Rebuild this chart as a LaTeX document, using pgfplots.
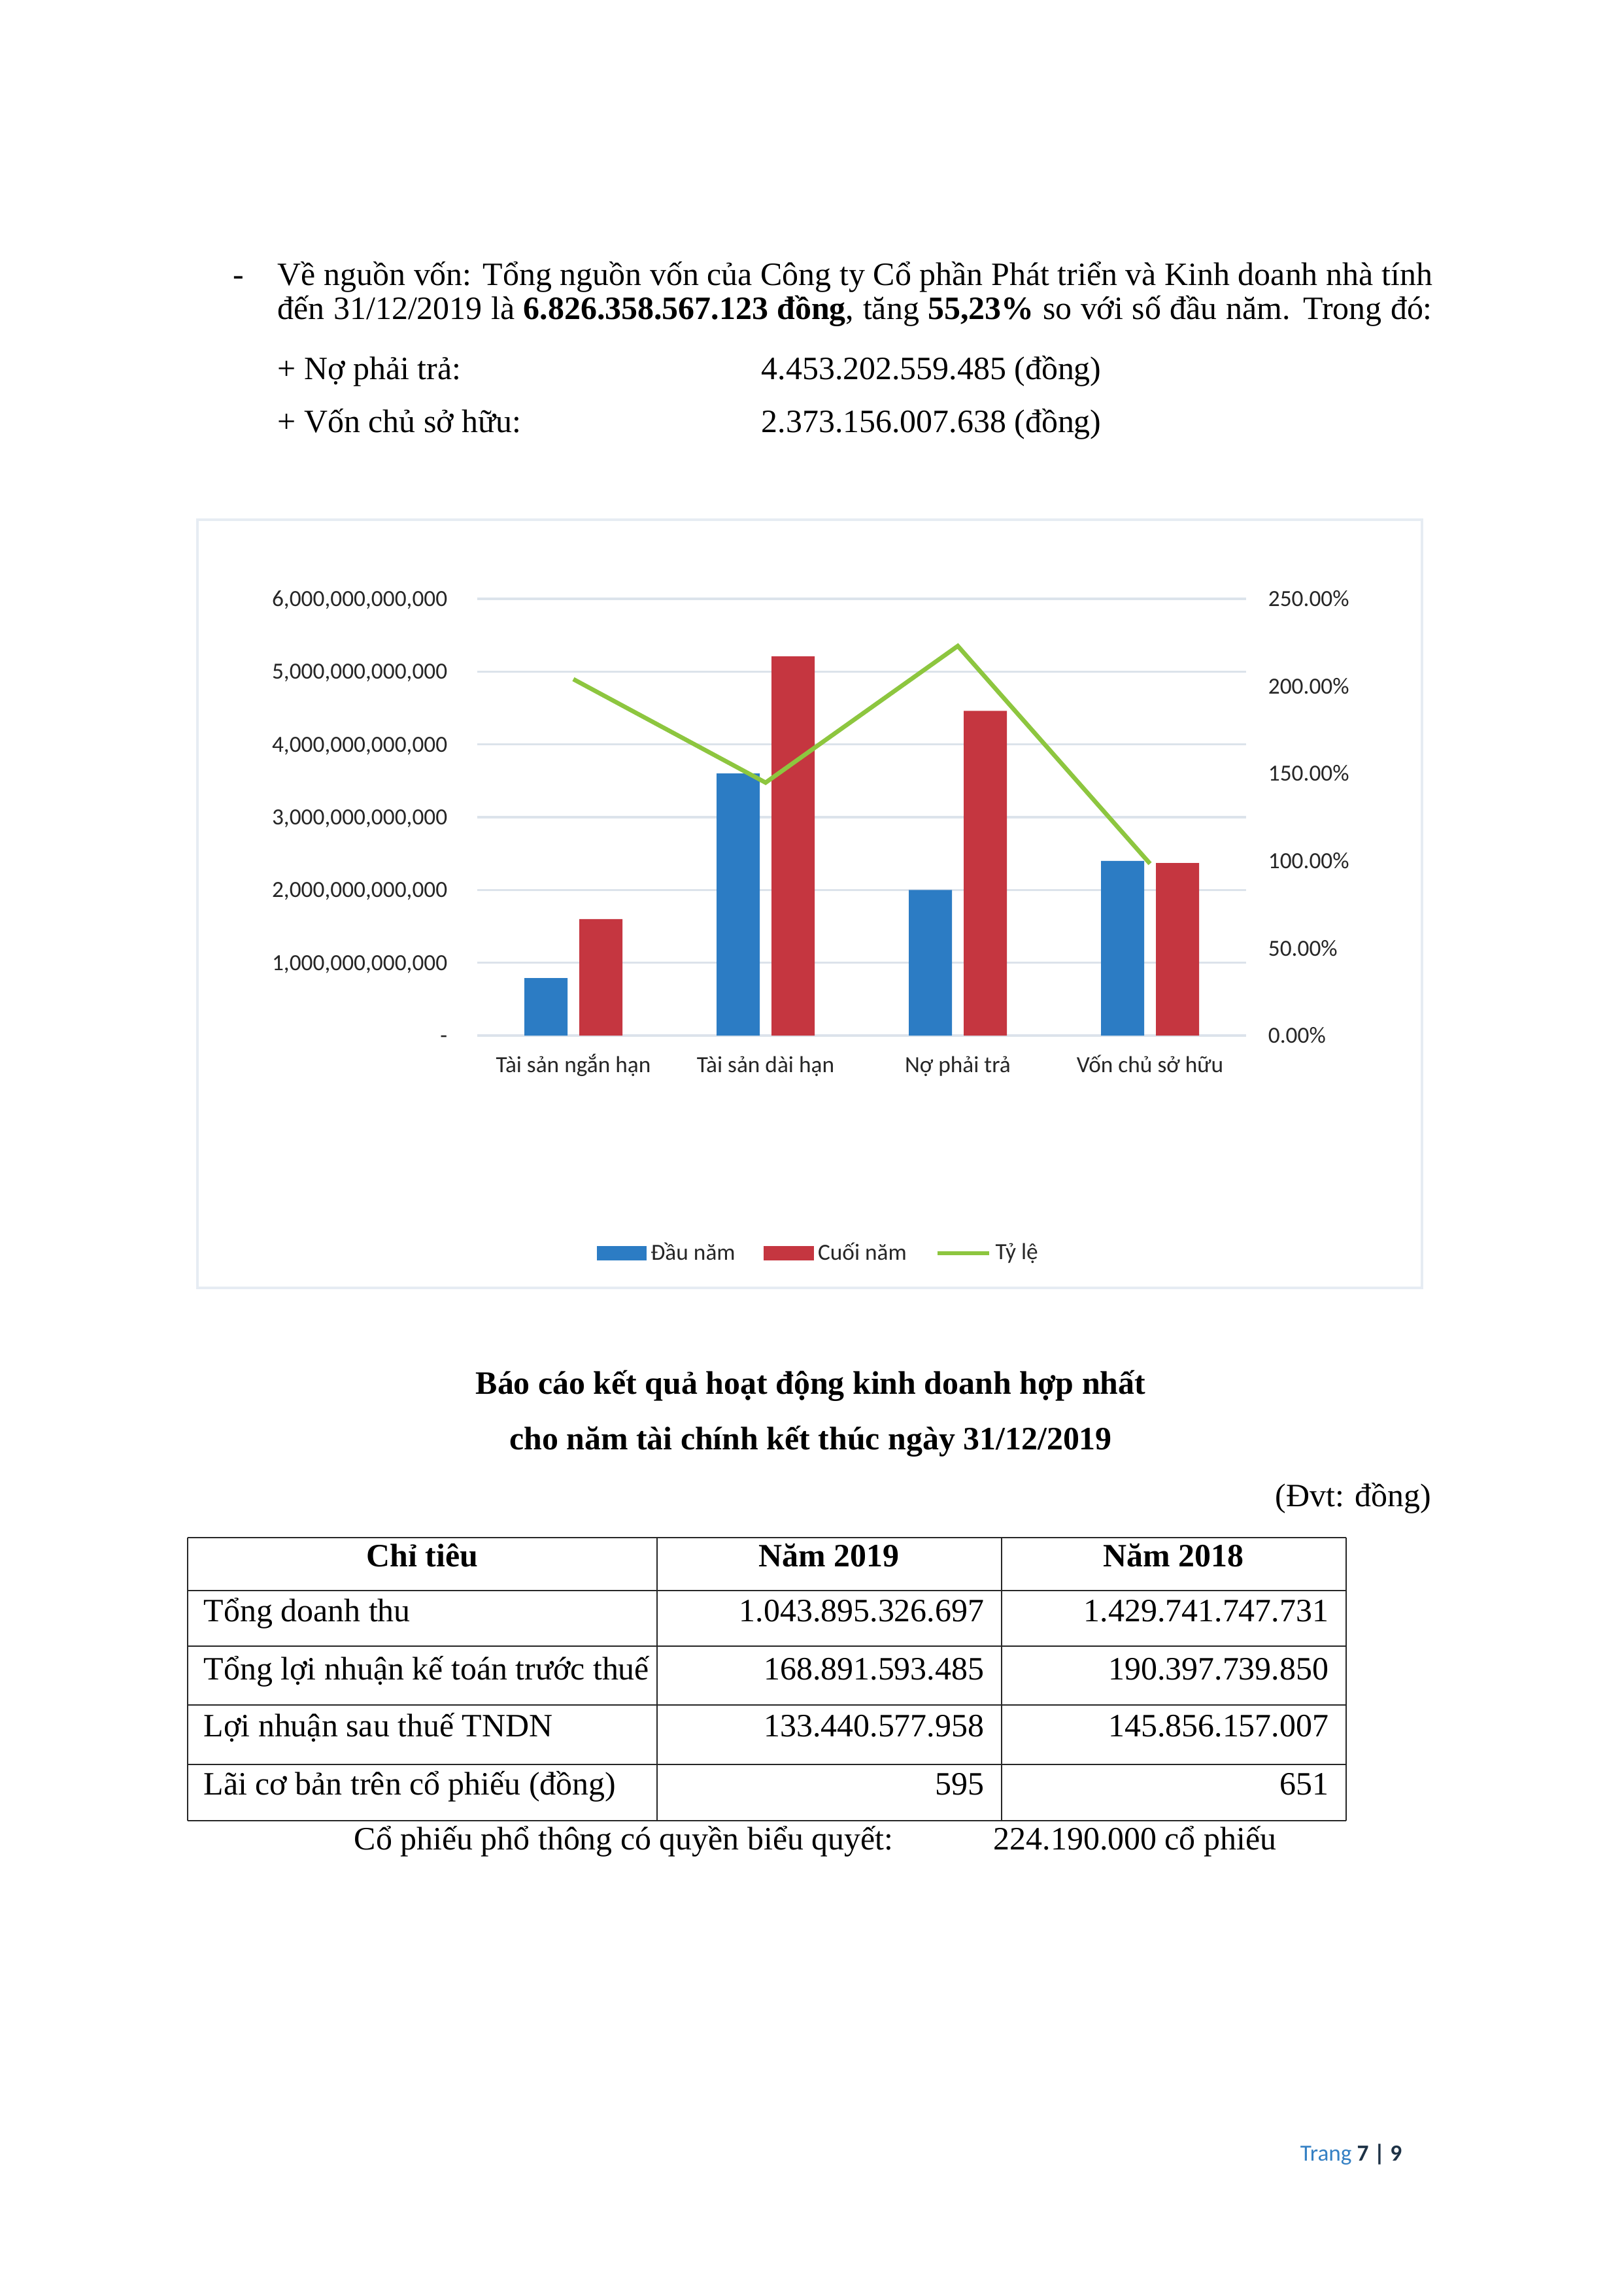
\documentclass[border=0pt]{standalone}
\usepackage{fontspec}
\setmainfont{Liberation Serif}
\newfontfamily\chartfont{Carlito}
\usepackage{pgfplots}
\pgfplotsset{compat=1.18}
\definecolor{barblue}{RGB}{44,124,196}
\definecolor{barred}{RGB}{197,54,64}
\definecolor{linegreen}{RGB}{141,198,63}
\definecolor{gridc}{RGB}{220,227,235}
\definecolor{boxc}{RGB}{230,236,243}
\definecolor{pageblue}{RGB}{52,128,196}
\definecolor{pagedark}{RGB}{30,50,70}
\newlength\px \setlength\px{0.0845411mm}
\newcommand\body{\fontsize{12pt}{14pt}\selectfont}
\newcommand\cf{\chartfont\fontsize{8.5pt}{10pt}\selectfont}
\begin{document}
\begin{tikzpicture}
\fill[white] (0,0) rectangle (2484\px,-3509\px);
\path[use as bounding box] (0,0) rectangle (2484\px,-3509\px);
\begin{scope}[x=0.0845411mm,y=-0.0845411mm]
\node[anchor=base west,inner sep=0pt] at (356,437) {\body -};
\node[anchor=base west,inner sep=0pt] at (424,437) {\body\makebox[1766\px][s]{Về nguồn vốn: Tổng nguồn vốn của Công ty Cổ phần Phát triển và Kinh doanh nhà tính}};
\node[anchor=base west,inner sep=0pt] at (424,489) {\body\makebox[1766\px][s]{đến 31/12/2019 là \textbf{6.826.358.567.123 đồng}, tăng \textbf{55,23\%} so với số đầu năm. Trong đó:}};
\node[anchor=base west,inner sep=0pt] at (424,581) {\body + Nợ phải trả:};
\node[anchor=base west,inner sep=0pt] at (1164,581) {\body 4.453.202.559.485 (đồng)};
\node[anchor=base west,inner sep=0pt] at (424,661) {\body + Vốn chủ sở hữu:};
\node[anchor=base west,inner sep=0pt] at (1164,661) {\body 2.373.156.007.638 (đồng)};
\draw[boxc,line width=1pt] (302,795) rectangle (2175,1970);
\node[anchor=base,inner sep=0pt] at (1240,2132) {\body\bfseries Báo cáo kết quả hoạt động kinh doanh hợp nhất};
\node[anchor=base,inner sep=0pt] at (1240,2217) {\body\bfseries cho năm tài chính kết thúc ngày 31/12/2019};
\node[anchor=base east,inner sep=0pt] at (2190,2304) {\body (Đvt: đồng)};
\foreach \yy in {2352,2433,2518,2608,2699,2785} {\draw[black!85,line width=0.6pt] (287,\yy) -- (2059,\yy);}
\foreach \xx in {287,1005,1532,2059} {\draw[black!85,line width=0.6pt] (\xx,2352) -- (\xx,2785);}
\node[anchor=base,inner sep=0pt] at (646,2396) {\body\bfseries Chỉ tiêu};
\node[anchor=base,inner sep=0pt] at (1268,2396) {\body\bfseries Năm 2019};
\node[anchor=base,inner sep=0pt] at (1795,2396) {\body\bfseries Năm 2018};
\node[anchor=base west,inner sep=0pt] at (311,2480) {\body Tổng doanh thu};
\node[anchor=base east,inner sep=0pt] at (1506,2480) {\body 1.043.895.326.697};
\node[anchor=base east,inner sep=0pt] at (2033,2480) {\body 1.429.741.747.731};
\node[anchor=base west,inner sep=0pt] at (311,2569) {\body Tổng lợi nhuận kế toán trước thuế};
\node[anchor=base east,inner sep=0pt] at (1506,2569) {\body 168.891.593.485};
\node[anchor=base east,inner sep=0pt] at (2033,2569) {\body 190.397.739.850};
\node[anchor=base west,inner sep=0pt] at (311,2656) {\body Lợi nhuận sau thuế TNDN};
\node[anchor=base east,inner sep=0pt] at (1506,2656) {\body 133.440.577.958};
\node[anchor=base east,inner sep=0pt] at (2033,2656) {\body 145.856.157.007};
\node[anchor=base west,inner sep=0pt] at (311,2745) {\body Lãi cơ bản trên cổ phiếu (đồng)};
\node[anchor=base east,inner sep=0pt] at (1506,2745) {\body 595};
\node[anchor=base east,inner sep=0pt] at (2033,2745) {\body 651};
\node[anchor=base west,inner sep=0pt] at (541,2829) {\body Cổ phiếu phổ thông có quyền biểu quyết:};
\node[anchor=base west,inner sep=0pt] at (1519,2829) {\body 224.190.000 cổ phiếu};
\node[anchor=base west,inner sep=0pt] at (1988,3305) {\chartfont\fontsize{8.5pt}{10pt}\selectfont\textcolor{pageblue}{Trang} \textcolor{pagedark}{\textbf{7 | 9}}};
\end{scope}
\begin{axis}[
 at={(730\px,-1584\px)}, anchor=south west,
 scale only axis, width=1176\px, height=668\px,
 xmin=-0.5, xmax=3.5, ymin=0, ymax=6e12,
 scaled y ticks=false,
 axis line style={draw=none}, major tick length=0pt,
 ymajorgrids, grid style={gridc, line width=0.8pt},
 xtick={0,1,2,3},
 xticklabels={Tài sản ngắn hạn, Tài sản dài hạn, Nợ phải trả, Vốn chủ sở hữu},
 ytick={0,1e12,2e12,3e12,4e12,5e12,6e12},
 yticklabels={{-\hspace{27\px}},{1,000,000,000,000},{2,000,000,000,000},{3,000,000,000,000},{4,000,000,000,000},{5,000,000,000,000},{6,000,000,000,000}},
 xticklabel style={font=\cf, text=black!85, anchor=base, inner sep=0pt, yshift=-56\px},
 yticklabel style={font=\cf, text=black!85, anchor=base east, inner sep=0pt, xshift=-45\px, yshift=-2.8pt},
 ybar, bar width=66\px,
]
\addplot[fill=barblue, draw=none, bar shift=-42\px] coordinates {(0,7.9e11) (1,3.60e12) (2,2.00e12) (3,2.40e12)};
\addplot[fill=barred, draw=none, bar shift=42\px] coordinates {(0,1.60e12) (1,5.21e12) (2,4.46e12) (3,2.37e12)};
\end{axis}
\begin{axis}[
 at={(730\px,-1584\px)}, anchor=south west,
 scale only axis, width=1176\px, height=668\px,
 xmin=-0.5, xmax=3.5, ymin=0, ymax=250,
 axis x line=none, axis y line*=right, axis line style={draw=none}, major tick length=0pt,
 ytick={0,50,100,150,200,250},
 yticklabels={0.00\%,50.00\%,100.00\%,150.00\%,200.00\%,250.00\%},
 yticklabel style={font=\cf, text=black!85, anchor=base west, inner sep=0pt, xshift=33\px, yshift=-2.8pt},
 legend style={at={(0.445,-0.4985)}, anchor=center, draw=none, fill=none, font=\cf, text=black!85,
   legend columns=3, /tikz/every even column/.append style={column sep=9pt}, nodes={inner xsep=1.5pt}},
]
\addlegendimage{barblue, legend image code/.code={\fill[barblue] (0pt,-2.4pt) rectangle (18pt,2.4pt);}}
\addlegendentry{Đầu năm}
\addlegendimage{barred, legend image code/.code={\fill[barred] (0pt,-2.4pt) rectangle (18pt,2.4pt);}}
\addlegendentry{Cuối năm}
\addplot[linegreen, line width=1.6pt, mark=none, legend image code/.code={\draw[linegreen, line width=1.6pt] (0pt,0pt) -- (19pt,0pt);}] coordinates {(0,204) (1,144.8) (2,223) (3,98.4)};
\addlegendentry{Tỷ lệ}
\end{axis}
\end{tikzpicture}
\end{document}
